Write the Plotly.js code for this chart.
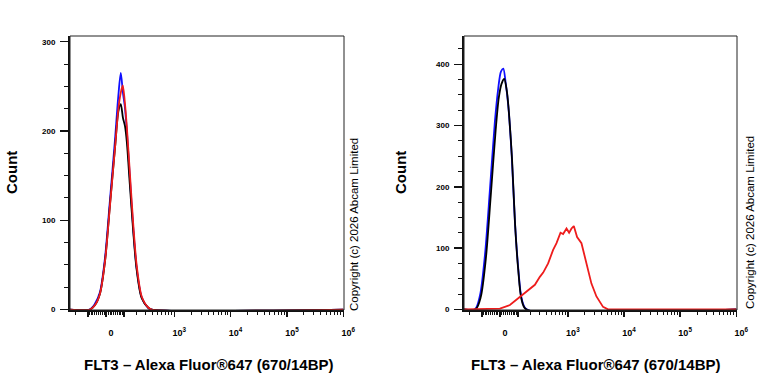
<!DOCTYPE html>
<html>
<head>
<meta charset="utf-8">
<script src="https://cdn.plot.ly/plotly-3.0.1.min.js"></script>
<style>html,body{margin:0;padding:0;background:#fff;}#chart{width:768px;height:384px;}</style>
</head>
<body>
<div id="chart"></div>
<script>
// ---- Data (raw fluorescence values, counts) ----
// Left panel
const leftBlueX  = [-257, -90, -60, -32, -6, 19, 46, 64, 79, 92, 104, 117, 140, 167, 198, 250, 335, 390, 1e6];
const leftBlueY  = [0, 0, 6, 19, 57, 121, 190, 238, 265, 243, 228, 203, 148, 92, 47, 14, 2, 0, 0];
const leftBlackX = [-257, -87, -58, -31, -5, 20, 47, 65, 79, 92, 106, 118, 140, 167, 198, 250, 335, 390, 1e6];
const leftBlackY = [0, 0, 5, 18, 55, 118, 183, 222, 230, 215, 205, 188, 140, 88, 45, 13, 2, 0, 0];
const leftRedX   = [-257, -87, -58, -31, -5, 20, 47, 65, 79, 91, 103, 118, 142, 169, 200, 253, 339, 392, 1e6];
const leftRedY   = [0, 0, 5, 18, 55, 117, 183, 225, 243, 251, 235, 205, 149, 93, 48, 14, 2, 0, 0];
// Right panel
const rightBlueX  = [-257, -150, -113, -81, -52, -26, -9, 5, 17, 30, 43, 62, 81, 102, 125, 164, 1e6];
const rightBlueY  = [0, 0, 23, 89, 197, 306, 360, 388, 393, 368, 333, 252, 143, 67, 18, 0, 0];
const rightBlackX = [-257, -145, -108, -76, -48, -22, -6, 8, 22, 36, 47, 64, 82, 102, 124, 160, 1e6];
const rightBlackY = [0, 0, 20, 82, 185, 292, 345, 368, 376, 355, 320, 245, 138, 64, 17, 0, 0];
const rightRedX   = [-257, -20, 0, 52, 113, 178, 245, 306, 354, 438, 541, 624, 737, 821, 945, 1052, 1161, 1277, 1461, 1750, 2148, 2636, 3235, 4241, 5196, 1e6];
const rightRedY   = [0, 0, 1, 7, 20, 31, 40, 53, 60, 75, 97, 108, 125, 123, 132, 125, 132, 136, 118, 108, 75, 42, 21, 4, 0, 0];

// Axis ticks (raw values)
const xMajorVals = [-100, 0, 100, 1e3, 1e4, 1e5, 1e6];
const xMajorText = ['', '0', '', '10<sup>3</sup>', '10<sup>4</sup>', '10<sup>5</sup>', '10<sup>6</sup>'];
const xMinorVals = [-200, -90, -80, -70, -60, -50, -40, -30, -20, -10, 10, 20, 30, 40, 50, 60, 70, 80, 90,
  200, 300, 400, 500, 600, 700, 800, 900,
  2e3, 3e3, 4e3, 5e3, 6e3, 7e3, 8e3, 9e3,
  2e4, 3e4, 4e4, 5e4, 6e4, 7e4, 8e4, 9e4,
  2e5, 3e5, 4e5, 5e5, 6e5, 7e5, 8e5, 9e5];
const leftYTicks = [0, 100, 200, 300];
const rightYTicks = [0, 100, 200, 300, 400];

const xTitle = 'FLT3 \u2013 Alexa Fluor\u00AE647 (670/14BP)';
const yTitle = 'Count';
const copyright = 'Copyright (c) 2026 Abcam Limited';

// Biexponential-like display transform
const W = 62;
function biex(v){ return Math.asinh(v/(2*W))/Math.LN10; }
const tx = arr => arr.map(biex);

const FONT = 'Arial, "Liberation Sans", Helvetica, sans-serif';
const BLUE = '#1010ff', RED = '#ee1c1c', BLACK = '#000000';

function tr(x, y, color, xa, ya, shape){
  return {x: tx(x), y: y, type: 'scatter', mode: 'lines', xaxis: xa, yaxis: ya,
    line: {color: color, width: 1.8, shape: shape || 'spline', smoothing: 0.8},
    hoverinfo: 'skip', showlegend: false};
}

const data = [
  tr(leftBlueX, leftBlueY, BLUE, 'x', 'y'),
  tr(leftBlackX, leftBlackY, BLACK, 'x', 'y'),
  tr(leftRedX, leftRedY, RED, 'x', 'y'),
  tr(rightBlueX, rightBlueY, BLUE, 'x2', 'y2'),
  tr(rightBlackX, rightBlackY, BLACK, 'x2', 'y2'),
  tr(rightRedX, rightRedY, RED, 'x2', 'y2', 'linear')
];

const xRange = [-0.64, 4.22];

function xAxis(domain, anchor){
  return {domain: domain, anchor: anchor, range: xRange, showgrid: false, zeroline: false,
    showline: true, linecolor: '#111', linewidth: 2,
    ticks: 'outside', ticklen: 5, tickwidth: 1.5, tickcolor: '#111',
    tickmode: 'array', tickvals: tx(xMajorVals), ticktext: xMajorText,
    ticklabelshift: 5, ticklabelstandoff: 8,
    tickfont: {family: FONT, size: 9, color: '#000', weight: 'bold'},
    minor: {tickmode: 'array', tickvals: tx(xMinorVals), ticks: 'outside', ticklen: 3, tickwidth: 1, tickcolor: '#111', showgrid: false},
    fixedrange: true};
}
function yAxis(domain, anchor, range, ticks){
  return {domain: domain, anchor: anchor, range: range, showgrid: false, zeroline: false,
    showline: true, linecolor: '#111', linewidth: 2,
    ticks: 'outside', ticklen: 8, tickwidth: 1.5, tickcolor: '#111',
    tickmode: 'array', tickvals: ticks, ticktext: ticks.map(String),
    ticklabelstandoff: 3,
    tickfont: {family: FONT, size: 8, color: '#000', weight: 'bold'},
    minor: {dtick: 25, tick0: 0, ticks: 'outside', ticklen: 4, tickwidth: 1, tickcolor: '#111', showgrid: false},
    fixedrange: true};
}

const yDom = [1 - 310/384, 1 - 36/384];
const layout = {
  width: 768, height: 384,
  margin: {l: 0, r: 0, t: 0, b: 0},
  paper_bgcolor: '#fff', plot_bgcolor: '#fff',
  showlegend: false,
  xaxis: xAxis([70/768, 344/768], 'y'),
  yaxis: yAxis(yDom, 'x', [-0.5, 306.4], leftYTicks),
  xaxis2: xAxis([464/768, 737/768], 'y2'),
  yaxis2: yAxis(yDom, 'x2', [-1.1, 446.2], rightYTicks),
  shapes: [
    {type: 'rect', xref: 'x domain', yref: 'y domain', x0: 0, x1: 1, y0: 0, y1: 1, line: {color: '#222', width: 1}, layer: 'above'},
    {type: 'rect', xref: 'x2 domain', yref: 'y2 domain', x0: 0, x1: 1, y0: 0, y1: 1, line: {color: '#222', width: 1}, layer: 'above'}
  ],
  annotations: [
    {text: yTitle, xref: 'paper', yref: 'paper', x: 12/768, y: 1 - 173/384, xanchor: 'center', yanchor: 'middle', textangle: -90, showarrow: false, font: {family: FONT, size: 15, color: '#000', weight: 'bold'}},
    {text: yTitle, xref: 'paper', yref: 'paper', x: 401/768, y: 1 - 173/384, xanchor: 'center', yanchor: 'middle', textangle: -90, showarrow: false, font: {family: FONT, size: 15, color: '#000', weight: 'bold'}},
    {text: xTitle, xref: 'paper', yref: 'paper', x: 208/768, y: 1 - 364/384, xanchor: 'center', yanchor: 'middle', showarrow: false, font: {family: FONT, size: 15, color: '#000', weight: 'bold'}},
    {text: xTitle, xref: 'paper', yref: 'paper', x: 595/768, y: 1 - 364/384, xanchor: 'center', yanchor: 'middle', showarrow: false, font: {family: FONT, size: 15, color: '#000', weight: 'bold'}},
    {text: copyright, xref: 'paper', yref: 'paper', x: 354/768, y: 1 - 225/384, xanchor: 'center', yanchor: 'middle', textangle: -90, showarrow: false, font: {family: FONT, size: 11.5, color: '#000'}},
    {text: copyright, xref: 'paper', yref: 'paper', x: 750/768, y: 1 - 223/384, xanchor: 'center', yanchor: 'middle', textangle: -90, showarrow: false, font: {family: FONT, size: 11.5, color: '#000'}}
  ]
};

Plotly.newPlot('chart', data, layout, {staticPlot: true, displayModeBar: false});
</script>
</body>
</html>
